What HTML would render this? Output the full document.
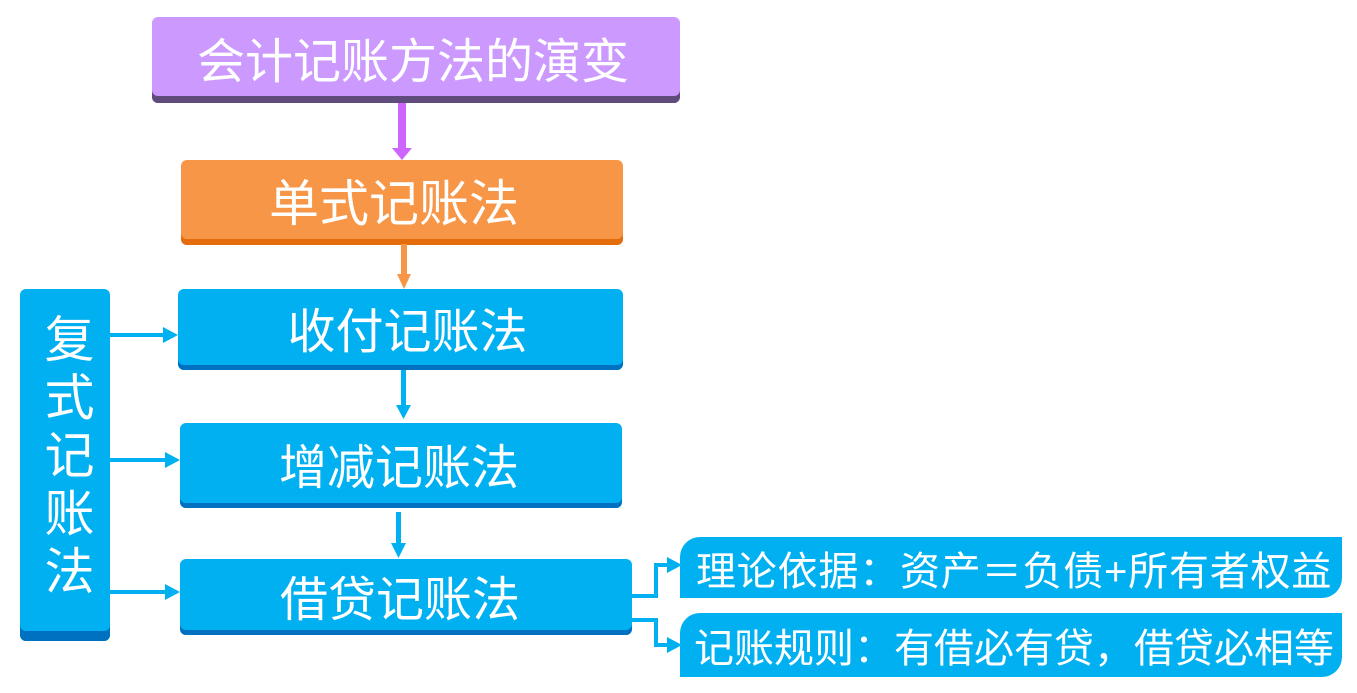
<!DOCTYPE html>
<html><head><meta charset="utf-8"><style>
body{margin:0;width:1357px;height:693px;background:#fff;position:relative;overflow:hidden;font-family:"Liberation Sans","Noto Sans CJK SC",sans-serif;}
.b{position:absolute;color:#fff;display:flex;align-items:center;justify-content:center;border-radius:6px;box-sizing:border-box;white-space:nowrap;}
</style></head><body>
<div class="b" style="left:152px;top:17px;width:528px;height:86px;background:#CC99FF;box-shadow:inset 0 -7px 0 #604C7C;font-size:48px;padding-bottom:6px;padding-right:6px">会计记账方法的演变</div>
<div class="b" style="left:181px;top:160px;width:442px;height:85px;background:#F79646;box-shadow:inset 0 -6px 0 #E46C0A;font-size:50px;padding-bottom:6px;padding-right:16px">单式记账法</div>
<div class="b" style="left:178px;top:289px;width:445px;height:81px;background:#00B0F0;box-shadow:inset 0 -5px 0 #0070C0;font-size:48px;padding-bottom:5px;padding-left:14px">收付记账法</div>
<div class="b" style="left:180px;top:423px;width:442px;height:85px;background:#00B0F0;box-shadow:inset 0 -5px 0 #0070C0;font-size:48px;padding-bottom:5px;padding-right:4px">增减记账法</div>
<div class="b" style="left:180px;top:559px;width:452px;height:76px;background:#00B0F0;box-shadow:inset 0 -5px 0 #0070C0;font-size:48px;padding-bottom:5px;padding-right:12px">借贷记账法</div>
<div class="b" style="left:20px;top:289px;width:90px;height:352px;background:#00B0F0;box-shadow:inset 0 -10px 0 #0070C0;font-size:50px;line-height:57px;writing-mode:vertical-rl;padding-bottom:14px;letter-spacing:8px">复式记账法</div>
<div class="b" style="left:680px;top:537px;width:662px;height:61px;background:#00B0F0;border-radius:20px 0 20px 0;font-size:40px;justify-content:flex-start;padding-left:16px;letter-spacing:0.8px">理论依据：资产＝负债+所有者权益</div>
<div class="b" style="left:680px;top:613px;width:662px;height:64px;background:#00B0F0;border-radius:20px 0 20px 0;font-size:40px;justify-content:flex-start;padding-left:14px">记账规则：有借必有贷，借贷必相等</div>
<svg width="1357" height="693" style="position:absolute;left:0;top:0">
<g>
<rect x="398" y="103" width="8" height="45" fill="#CC66FF"/><polygon points="392,148 412,148 402,160" fill="#CC66FF"/>
<rect x="401" y="244" width="6" height="32" fill="#F79646"/><polygon points="397,274 411,274 404,289" fill="#F79646"/>
</g>
<g fill="#00B0F0" stroke="none">
<rect x="401" y="370" width="5" height="37" /><polygon points="396,405 411,405 403.5,419"/>
<rect x="396" y="512" width="5" height="33"/><polygon points="391,543 406,543 398.5,558"/>
<rect x="110" y="333" width="55" height="4"/><polygon points="163,327 178,335 163,343"/>
<rect x="110" y="458" width="57" height="4"/><polygon points="165,452 180,460 165,468"/>
<rect x="110" y="590" width="57" height="4"/><polygon points="165,584 180,592 165,600"/>
</g>
<g fill="none" stroke="#00B0F0" stroke-width="4">
<polyline points="632,596 656,596 656,565 670,565"/>
<polyline points="632,620 656,620 656,645 670,645"/>
</g>
<g fill="#00B0F0"><polygon points="667,557 682,565 667,573"/><polygon points="667,637 682,645 667,653"/></g>
</svg>
</body></html>
